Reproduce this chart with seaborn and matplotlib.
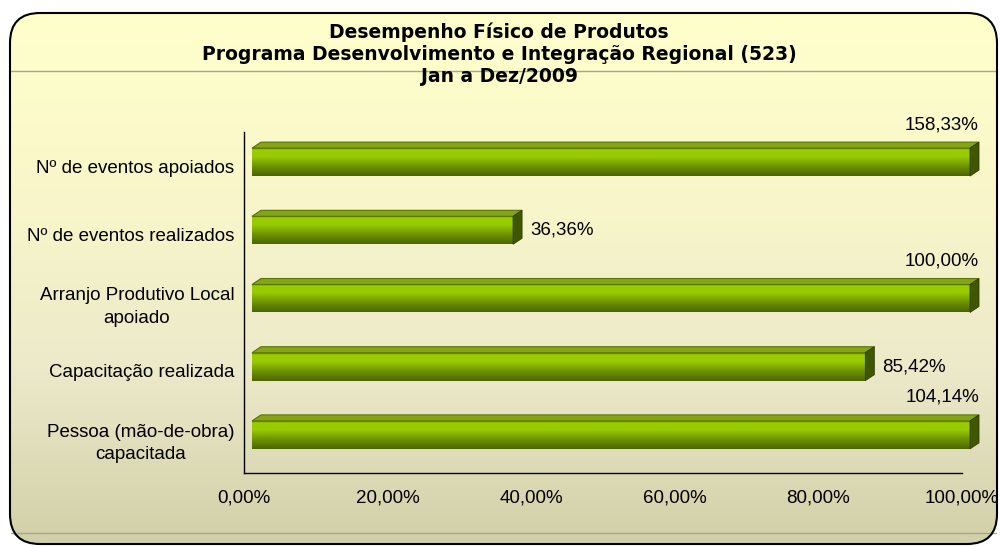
import numpy as np
import matplotlib
matplotlib.use("Agg")
import matplotlib.pyplot as plt
import seaborn as sns
from matplotlib.patches import FancyBboxPatch, Polygon
from matplotlib.colors import LinearSegmentedColormap

# chart data
categories = [
    "Nº de eventos apoiados",
    "Nº de eventos realizados",
    "Arranjo Produtivo Local\napoiado",
    "Capacitação realizada",
    "Pessoa (mão-de-obra)\ncapacitada",
]
values = [158.33, 36.36, 100.00, 85.42, 104.14]
value_labels = ["158,33%", "36,36%", "100,00%", "85,42%", "104,14%"]
tick_values = [0, 20, 40, 60, 80, 100]
tick_labels = ["0,00%", "20,00%", "40,00%", "60,00%", "80,00%", "100,00%"]
title_lines = [
    "Desempenho Físico de Produtos",
    "Programa Desenvolvimento e Integração Regional (523)",
    "Jan a Dez/2009",
]
x_max = 100

W, H = 1001, 547
sns.set_style("white")
plt.rcParams["font.family"] = ["Liberation Sans", "DejaVu Sans"]
plt.rcParams["text.color"] = "black"
plt.rcParams["xtick.color"] = "black"
plt.rcParams["ytick.color"] = "black"

fig = plt.figure(figsize=(W / 100, H / 100), dpi=100)
fig.patch.set_facecolor("white")

# background panel with rounded border and a vertical gradient
bg = fig.add_axes([0, 0, 1, 1])
bg.axis("off")
frame = FancyBboxPatch((10, 13), 987, 531, boxstyle="round,pad=0,rounding_size=30",
                       fc="none", ec="black", lw=1.5, zorder=3)
bg.add_patch(frame)
bg_cmap = LinearSegmentedColormap.from_list(
    "bg", ["#ffffcc", "#f9f7c9", "#eceaca", "#d2d0a8"])
grad = np.linspace(0, 1, 256).reshape(-1, 1)
im = bg.imshow(grad, extent=[10, 997, 544, 13], aspect="auto", cmap=bg_cmap, zorder=1)
im.set_clip_path(frame)
bg.plot([11, 996], [71, 71], color="#a8a888", lw=1, zorder=2)
bg.plot([11, 996], [533, 533], color="#a8a888", lw=1, zorder=2)
bg.set_xlim(0, W)
bg.set_ylim(H, 0)

for i, line in enumerate(title_lines):
    bg.text(499, 32 + i * 22, line, ha="center", va="center", fontsize=13.5,
            fontweight="bold", family=["DejaVu Sans"], zorder=4)

# main axes
left, right, top, bottom = 244, 962, 132, 473
ax = fig.add_axes([left / W, 1 - bottom / H, (right - left) / W, (bottom - top) / H])
ax.patch.set_alpha(0)

clipped = np.minimum(values, x_max)
sns.barplot(x=clipped, y=categories, orient="h", color="#99cc00", width=0.41,
            ax=ax, zorder=3)
ax.set_xlim(0, x_max)
ax.set_ylim(len(categories) - 0.5, -0.5)

# pixel -> data unit conversions for the 3D look
ux = x_max / (right - left)
uy = len(categories) / (bottom - top)
shift_x, shift_y = 8 * ux, 4 * uy   # front face offset
dx, dy = 9 * ux, 6 * uy             # depth of the bar

front_cmap = LinearSegmentedColormap.from_list(
    "front", [(0, "#5f7d00"), (0.06, "#99cc00"), (0.3, "#99cc00"),
              (0.65, "#6f9400"), (1, "#4b6400")])

lab_size = 13.5
for patch, lab, v in zip(ax.patches, value_labels, values):
    patch.set_x(patch.get_x() + shift_x)
    patch.set_y(patch.get_y() - shift_y)
    patch.set_edgecolor("none")
    x0, y0 = patch.get_x(), patch.get_y()
    w, h = patch.get_width(), patch.get_height()
    g = ax.imshow(grad, extent=[x0, x0 + w, y0 + h, y0], aspect="auto",
                  cmap=front_cmap, zorder=4)
    g.set_clip_path(patch)
    topf = Polygon([(x0, y0), (x0 + w, y0), (x0 + w + dx, y0 - dy), (x0 + dx, y0 - dy)],
                   closed=True, fc="#84a41a", ec="#5a7400", lw=0.8, zorder=4, clip_on=False)
    ax.add_patch(topf)
    side = Polygon([(x0 + w, y0), (x0 + w + dx, y0 - dy), (x0 + w + dx, y0 + h - dy),
                    (x0 + w, y0 + h)], closed=True, fc="#415600", ec="#2f3d00", lw=0.6,
                   zorder=4, clip_on=False)
    ax.add_patch(side)
    if v >= x_max:
        ax.text(x0 + w + dx, y0 - dy - 9 * uy, lab, ha="right", va="bottom",
                fontsize=lab_size, zorder=5, clip_on=False)
    else:
        ax.text(x0 + w + dx + 8 * ux, y0 + h / 2, lab, ha="left", va="center",
                fontsize=lab_size, zorder=5)

ax.set_xlim(0, x_max)
ax.set_ylim(len(categories) - 0.5, -0.5)

ax.set_xticks(tick_values)
ax.set_xticklabels(tick_labels, fontsize=lab_size)
ax.set_yticks(range(len(categories)))
ax.set_yticklabels(categories, fontsize=lab_size, multialignment="center",
                   linespacing=1.4)
ax.set_yticks(np.arange(-0.5, len(categories), 1), minor=True)
ax.tick_params(axis="y", which="major", length=0, pad=7)
ax.tick_params(axis="y", which="minor", length=5, width=1, color="black", direction="out")
ax.tick_params(axis="x", length=5, width=1, color="black", direction="out", pad=7)
ax.set_xlabel("")
ax.set_ylabel("")
for s in ["top", "right"]:
    ax.spines[s].set_visible(False)
for s in ["left", "bottom"]:
    ax.spines[s].set_color("black")
    ax.spines[s].set_linewidth(1)

fig.savefig("out.png", dpi=100)
